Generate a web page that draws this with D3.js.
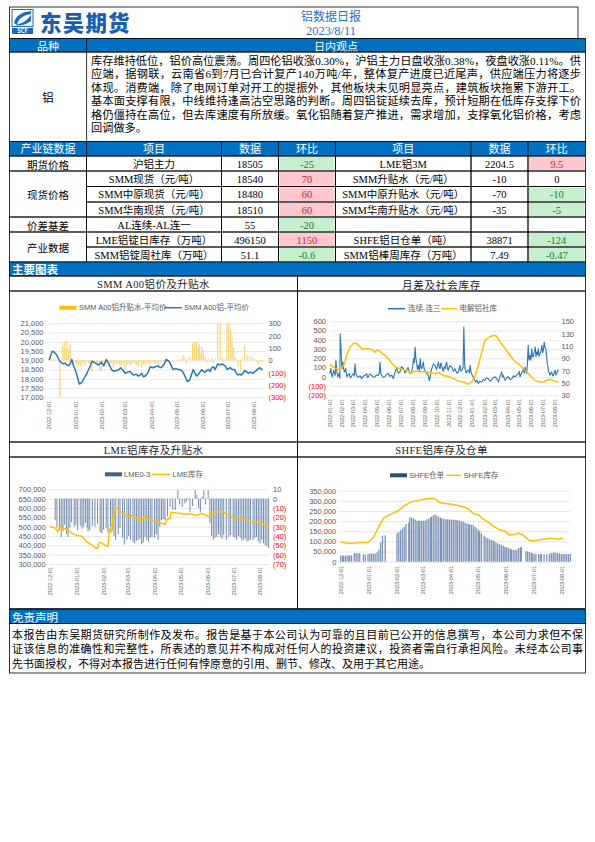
<!DOCTYPE html>
<html><head><meta charset="utf-8">
<script src="https://cdn.jsdelivr.net/npm/d3@7"></script>
<style>
body{margin:0;background:#fff;}
svg text{font-family:"Liberation Serif","Noto Sans CJK SC",serif;}
.sans{font-family:"Noto Sans CJK SC",sans-serif !important;}
.ax{font-family:"Liberation Sans","Noto Sans CJK SC",sans-serif !important;font-size:7.5px;fill:#595959;}
.xl{font-family:"Liberation Sans",sans-serif !important;font-size:5.5px;fill:#595959;}
.lg{font-family:"Liberation Sans","Noto Sans CJK SC",sans-serif !important;font-size:7.5px;fill:#595959;}
</style></head><body>
<svg id="page" width="595" height="842" xmlns="http://www.w3.org/2000/svg"></svg>
<script>
// ---------------- DATA ----------------
const reportTitle = "铝数据日报";
const reportDate = "2023/8/11";
const viewLines = [
 "库存维持低位，铝价高位震荡。周四伦铝收涨0.30%，沪铝主力日盘收涨0.38%，夜盘收涨0.11%。供",
 "应端，据钢联，云南省6到7月已合计复产140万吨/年，整体复产进度已近尾声，供应端压力将逐步",
 "体现。消费端，除了电网订单对开工的提振外，其他板块未见明显亮点，建筑板块拖累下游开工。",
 "基本面支撑有限，中线维持逢高沽空思路的判断。周四铝锭延续去库，预计短期在低库存支撑下价",
 "格仍僵持在高位，但去库速度有所放缓。氧化铝随着复产推进，需求增加，支撑氧化铝价格，考虑",
 "回调做多。"
];
const tableHead = ["产业链数据","项目","数据","环比","项目","数据","环比"];
const groups = [["期货价格",1],["现货价格",3],["价差基差",1],["产业数据",2]];
const itemsL = ["沪铝主力","SMM现货（元/吨）","SMM中原现货（元/吨）","SMM华南现货（元/吨）","AL连续-AL连一","LME铝锭日库存（万吨）","SMM铝锭周社库（万吨）"];
const valsL  = ["18505","18540","18480","18510","55","496150","51.1"];
const chgL   = ["-25","70","60","60","-20","1150","-0.6"];
const itemsR = ["LME铝3M","SMM升贴水（元/吨）","SMM中原升贴水（元/吨）","SMM华南升贴水（元/吨）","","SHFE铝日仓单（吨）","SMM铝棒周库存（万吨）"];
const valsR  = ["2204.5","-10","-70","-35","","38871","7.49"];
const chgR   = ["9.5","0","-10","-5","","-124","-0.47"];
const disclaimer = [
 "本报告由东吴期货研究所制作及发布。报告是基于本公司认为可靠的且目前已公开的信息撰写，本公司力求但不保",
 "证该信息的准确性和完整性，所表述的意见并不构成对任何人的投资建议，投资者需自行承担风险。未经本公司事",
 "先书面授权，不得对本报告进行任何有悖原意的引用、删节、修改、及用于其它用途。"
];
const chartTitles = ["SMM A00铝价及升贴水","月差及社会库存","LME铝库存及升贴水","SHFE铝库存及仓单"];

// chart 1 : [days since base, value]
const c1Base = "2022-12-01";
const c1Months = ["2022-12-01","2023-01-01","2023-02-01","2023-03-01","2023-04-01","2023-05-01","2023-06-01","2023-07-01","2023-08-01"];
const c1LeftTicks = [17000,17500,18000,18500,19000,19500,20000,20500,21000];
const c1RightTicks = [-300,-200,-100,0,100,200,300];
const a00Price = [[0,19000],[2,19250],[4,19500],[6,19450],[9,19300],[12,19000],[14,18900],[17,18800],[19,18850],[21,18750],[23,18700],[25,18800],[27,19050],[29,18700],[31,18500],[33,18200],[36,17720],[39,17800],[43,18150],[45,18300],[47,18500],[49,18700],[51,18950],[53,18900],[55,18850],[58,18750],[60,18800],[62,18900],[65,18700],[68,19050],[71,18800],[74,18500],[77,18400],[80,18450],[83,18500],[85,18600],[88,18450],[90,18300],[93,18350],[96,18400],[98,18300],[100,18200],[103,18250],[106,18150],[108,18200],[110,18300],[112,18100],[114,18150],[116,18250],[118,18400],[120,18650],[123,18600],[126,18650],[129,18700],[132,18600],[134,18650],[136,18750],[139,19050],[143,18900],[145,18700],[147,18500],[150,18550],[153,18500],[155,18500],[157,18450],[159,18350],[161,18150],[164,17850],[167,17950],[169,18250],[171,18500],[173,18300],[175,18150],[177,18250],[178,18300],[181,18500],[183,18400],[185,18350],[187,18450],[189,18500],[191,18400],[193,18600],[195,18650],[197,18500],[200,18800],[202,18750],[205,18800],[207,18750],[209,18700],[211,18500],[213,18550],[215,18600],[217,18500],[220,18500],[222,18300],[224,18200],[226,18250],[228,18200],[230,18300],[232,18450],[234,18400],[236,18300],[238,18350],[240,18350],[242,18300],[244,18400],[246,18450],[248,18550],[250,18600],[252,18500],[253,18540]];
const a00Premium = [[2,30],[5,20],[8,10],[13,-300],[16,120],[18,150],[19,100],[21,160],[23,90],[25,130],[29,-30],[31,-20],[33,-60],[35,-40],[37,-50],[39,-40],[41,-20],[43,-40],[45,-10],[47,-30],[49,-20],[51,-95],[53,-30],[56,-20],[58,-40],[60,-90],[62,-90],[64,-40],[66,-30],[68,-20],[70,-10],[72,-40],[74,-20],[76,-60],[78,-30],[80,-30],[82,-20],[84,-40],[86,-50],[88,-30],[90,-70],[92,-40],[94,-20],[96,-40],[98,-30],[100,-20],[102,-30],[104,-40],[106,-50],[108,-20],[110,-60],[112,-30],[114,-40],[116,-20],[118,-30],[120,-30],[122,-10],[124,-20],[126,-30],[128,-20],[130,-40],[132,-10],[134,-20],[136,-10],[139,-10],[142,-5],[148,-5],[151,5],[153,-10],[156,10],[159,40],[161,20],[163,-30],[165,10],[167,30],[170,140],[172,120],[173,150],[175,150],[177,100],[178,130],[180,60],[181,110],[183,80],[185,30],[187,-20],[189,10],[191,-10],[193,20],[195,-20],[197,10],[200,300],[203,300],[205,20],[207,-10],[209,10],[211,300],[213,300],[215,250],[217,180],[219,100],[221,20],[224,-50],[227,-80],[229,20],[232,120],[235,40],[238,30],[241,20],[244,10],[246,-10],[248,-30],[251,-20],[253,-10]];

// chart 2
const c2Base = "2022-01-01";
const c2Months = ["2022-01-01","2022-02-01","2022-03-01","2022-04-01","2022-05-01","2022-06-01","2022-07-01","2022-08-01","2022-09-01","2022-10-01","2022-11-01","2022-12-01","2023-01-01","2023-02-01","2023-03-01","2023-04-01","2023-05-01","2023-06-01","2023-07-01","2023-08-01"];
const c2LeftTicks = [-200,-100,0,100,200,300,400,500,600];
const c2RightTicks = [30,50,70,90,110,130,150];
const spread = [[0,35],[3,88],[5,20],[7,0],[10,70],[12,40],[14,16],[16,178],[18,60],[21,0],[24,35],[26,-15],[27,466],[29,300],[31,124],[33,90],[34,160],[36,80],[38,52],[41,88],[43,30],[44,0],[47,20],[50,35],[53,-10],[55,0],[58,20],[61,35],[63,10],[65,140],[67,40],[69,16],[72,-5],[74,0],[78,10],[82,-20],[86,5],[91,16],[95,35],[97,-10],[99,0],[103,30],[108,16],[112,-5],[116,0],[120,20],[125,16],[127,40],[129,160],[131,30],[133,16],[137,-5],[142,0],[146,30],[150,35],[154,5],[159,16],[163,-20],[166,30],[169,70],[172,88],[176,40],[180,52],[184,110],[189,88],[193,40],[197,70],[201,100],[206,35],[210,45],[213,120],[215,196],[217,150],[219,322],[221,200],[223,160],[225,80],[227,124],[230,60],[232,196],[234,100],[236,88],[238,120],[240,160],[242,90],[244,70],[248,40],[253,16],[255,-40],[257,-20],[260,60],[262,88],[266,140],[270,124],[274,80],[279,160],[281,100],[283,88],[285,150],[287,124],[291,60],[294,110],[296,88],[298,130],[300,160],[302,90],[304,70],[308,120],[313,106],[317,60],[321,88],[326,40],[330,52],[332,90],[334,124],[336,60],[339,70],[342,100],[344,539],[346,150],[347,88],[350,40],[353,70],[356,70],[358,40],[360,124],[362,60],[364,35],[366,10],[368,0],[371,-30],[374,-56],[378,-40],[381,-74],[385,-50],[390,-56],[394,-30],[398,-38],[402,-10],[407,-20],[411,-45],[415,-38],[419,-10],[424,0],[428,-20],[431,-40],[433,-56],[437,10],[441,52],[443,-5],[445,16],[448,-20],[450,-38],[454,-10],[458,0],[462,-30],[467,-20],[471,10],[475,0],[480,20],[484,35],[486,60],[488,0],[492,40],[495,60],[497,88],[499,40],[501,106],[503,60],[505,35],[507,150],[509,340],[511,180],[514,232],[516,180],[518,304],[520,220],[522,214],[524,260],[527,322],[529,220],[531,268],[533,240],[535,304],[537,220],[539,250],[542,280],[544,340],[546,260],[548,286],[550,376],[552,320],[554,304],[556,232],[558,150],[561,70],[563,40],[565,16],[567,40],[569,52],[572,10],[574,16],[576,50],[578,70],[580,20],[582,35],[584,60],[586,82]];
const socialStock = [[0,80],[14,74],[22,72],[31,74],[38,81],[44,96],[52,108],[61,114],[67,115],[74,111],[82,106],[91,105],[99,106],[108,104],[116,100],[123,104],[133,99],[146,92],[157,84],[168,76],[180,73],[193,70.5],[206,67],[219,69],[232,68],[244,68],[257,67],[270,65],[279,67],[291,62],[304,61],[317,57],[330,53],[343,51.6],[356,48],[364,51.6],[373,62],[381,78.6],[390,100],[398,119],[409,124.6],[420,127],[428,126],[437,116.5],[450,105.7],[462,95],[475,85],[488,78.6],[501,70.5],[514,62],[527,54],[539,51.6],[548,51.6],[556,54],[565,56],[578,53],[587,51.1]];

// chart 3
const c3Base = "2022-12-01";
const c3LeftTicks = [300000,350000,400000,450000,500000,550000,600000,650000,700000];
const c3RightTicks = [-70,-60,-50,-40,-30,-20,-10,0,10];
const lmeStock = [[0,501000],[6,492000],[9,474000],[12,505000],[13,483000],[17,489000],[21,483000],[25,465000],[31,453000],[37,448000],[42,421000],[48,403000],[52,389000],[55,382000],[57,417000],[60,412000],[64,400000],[67,394000],[69,492000],[71,470000],[73,545000],[76,602000],[79,590000],[83,577000],[87,563000],[91,554000],[93,567000],[96,554000],[100,545000],[104,549000],[106,531000],[109,554000],[112,545000],[116,537000],[121,531000],[125,524000],[129,519000],[133,513000],[135,537000],[139,545000],[140,577000],[145,574000],[150,572000],[156,567000],[162,569000],[166,563000],[172,563000],[175,572000],[177,567000],[181,560000],[184,554000],[187,581000],[191,577000],[195,584000],[199,581000],[203,572000],[206,563000],[210,554000],[214,545000],[218,549000],[222,542000],[226,537000],[231,531000],[237,524000],[243,519000],[249,510000],[253,496150]];
const lme03 = [[6,-23],[8,-31],[11,-33],[13,-41],[15,-35],[17,-28],[19,-38],[21,-41],[23,-31],[25,-25],[28,-30],[30,-28],[32,-34],[35,-29],[37,-32],[39,-30],[41,-26],[43,-31],[44,-35],[46,-34],[49,-29],[52,-30],[55,-27],[58,-36],[60,-37],[62,-33],[65,-31],[67,-36],[70,-30],[72,-34],[74,-40],[76,-44],[79,-38],[81,-31],[84,-42],[86,-49],[89,-44],[91,-40],[93,-44],[96,-46],[98,-48],[100,-45],[102,-44],[104,-43],[106,-49],[108,-47],[110,-41],[112,-44],[114,-46],[116,-42],[118,-41],[121,-42],[123,-38],[125,-44],[127,-30],[129,-23],[131,-22],[133,-23],[136,-19],[139,-9],[142,-12],[145,-12],[148,9],[150,-6],[153,-9],[156,-5],[158,-3],[160,-1],[162,-14],[165,-8],[168,9],[170,4],[172,-10],[174,-14],[176,2],[178,9],[180,-6],[183,9],[185,-26],[187,-40],[189,-44],[191,-42],[193,-41],[195,-38],[197,-41],[199,-43],[201,-39],[204,-44],[207,-41],[209,-39],[212,-41],[214,-42],[216,-44],[218,-40],[220,-42],[222,-45],[224,-44],[226,-43],[228,-46],[230,-45],[232,-44],[235,-44],[237,-42],[239,-41],[241,-46],[243,-48],[245,-44],[247,-48],[249,-50],[251,-51],[253,-53]];

// chart 4
const c4Base = "2022-12-01";
const c4LeftTicks = [0,50000,100000,150000,200000,250000,300000,350000];
const shfeStock = [[0,98600],[8,90000],[16,92000],[23,95000],[30,95000],[36,118000],[41,164000],[47,214000],[51,225000],[57,238000],[63,250000],[71,279000],[78,296000],[85,301000],[93,309000],[98,312000],[104,309000],[109,292000],[115,287000],[122,283000],[130,276000],[135,271000],[141,260000],[146,238000],[152,230000],[157,210000],[163,194000],[168,177000],[174,159000],[181,151000],[186,131000],[191,135000],[196,140000],[201,131000],[207,107000],[212,102000],[218,107000],[225,112000],[232,115000],[240,112000],[245,115000]];
const shfeWarrant = [[0,30000],[2,30000],[3,30000],[5,30000],[7,30000],[9,31000],[10,31000],[12,32000],[15,42000],[17,42000],[19,42000],[21,42000],[25,38000],[27,35000],[30,38000],[32,40000],[34,40000],[36,40000],[38,40000],[40,45000],[42,60000],[44,95000],[46,128000],[49,130000],[62,140000],[64,147000],[66,155000],[68,163000],[70,172000],[72,185000],[75,192000],[76,218000],[78,218000],[80,215000],[82,208000],[84,202000],[86,202000],[87,202000],[89,202000],[91,202000],[93,202000],[95,208000],[97,213000],[99,218000],[100,222000],[102,228000],[104,233000],[106,228000],[108,222000],[110,218000],[111,213000],[113,212000],[115,210000],[117,209000],[118,208000],[120,208000],[122,207000],[124,207000],[126,206000],[128,205000],[129,204000],[131,202000],[133,200000],[135,197000],[137,193000],[139,189000],[141,186000],[142,184000],[144,182000],[146,180000],[148,172000],[150,164000],[152,155000],[153,148000],[155,140000],[158,128000],[160,120000],[162,115000],[164,110000],[166,107000],[168,104000],[169,100000],[171,95000],[173,90000],[175,86000],[177,82000],[179,78000],[180,75000],[182,72000],[183,70000],[185,68000],[187,64000],[188,60000],[190,58000],[192,57000],[194,60000],[196,68000],[198,70000],[199,72000],[204,52000],[206,50000],[208,47000],[210,44000],[211,42000],[213,40000],[215,38000],[218,37000],[220,37000],[221,37000],[224,37000],[227,37000],[230,40000],[232,42000],[234,44000],[235,45000],[237,44000],[239,42000],[241,40000],[243,38000],[245,38000],[247,38000],[249,38000],[251,38000],[253,38871]];

// ---------------- DRAW ----------------
const svg = d3.select("#page");
const BLUE = "#0070c0";
const L = 9.5, R = 585.5, MID = 297.5;
const parse = d3.timeParse("%Y-%m-%d");
const fmtD = d3.timeFormat("%Y-%m-%d");
const dayOf = (base, d) => d3.timeDay.offset(parse(base), d);
const comma = d3.format(",");
const paren = v => v < 0 ? "(" + Math.abs(v) + ")" : String(v);

function box(x, y, w, h, fill) {
  return svg.append("rect").attr("x", x).attr("y", y).attr("width", w).attr("height", h)
    .attr("fill", fill || "none").attr("stroke", "#000").attr("stroke-width", 0.8);
}
function vline(x, y1, y2) { svg.append("line").attr("x1", x).attr("x2", x).attr("y1", y1).attr("y2", y2).attr("stroke", "#000").attr("stroke-width", 0.8); }
function txt(x, y, s, size, opt) {
  opt = opt || {};
  const t = svg.append("text").attr("x", x).attr("y", y).text(s)
    .attr("font-size", size).attr("dominant-baseline", "central")
    .attr("text-anchor", opt.anchor || "middle").attr("fill", opt.fill || "#000");
  if (opt.cls) t.attr("class", opt.cls);
  if (opt.weight) t.attr("font-weight", opt.weight);
  if (opt.len) t.attr("textLength", opt.len).attr("lengthAdjust", "spacing");
  if (opt.ls) t.attr("letter-spacing", opt.ls);
  return t;
}

// header
box(L, 7, 578 - L, 31.5);
const logo = svg.append("g");
logo.append("rect").attr("x", 12).attr("y", 9.5).attr("width", 21).attr("height", 17).attr("fill", "#fff").attr("stroke", "#1a6bc0").attr("stroke-width", 1);
logo.append("path").attr("d", "M14,23 C16,14 24,12 31,11 L31,14 C25,15 19,17 17,25 Z").attr("fill", "#1a6bc0");
logo.append("path").attr("d", "M15,25 C21,24 27,21 31,15 L31,21 C27,24 22,25.5 18,25.5 Z").attr("fill", "#1a6bc0");
logo.append("rect").attr("x", 12).attr("y", 28).attr("width", 21).attr("height", 6).attr("fill", "#1a6bc0");
logo.append("text").attr("x", 22.5).attr("y", 31.2).attr("text-anchor", "middle").attr("dominant-baseline", "central")
  .attr("font-size", 5.5).attr("font-weight", "bold").attr("fill", "#fff").attr("class", "sans").text("SCF");
txt(40, 21, "东吴期货", 21.5, { anchor: "start", fill: "#1a5fae", weight: 900, cls: "sans", ls: 1.2 });
txt(331, 15, reportTitle, 12, { fill: "#2f6fc0", cls: "sans" });
txt(331, 30.5, reportDate, 12.5, { fill: "#2f6fc0" });

// view header
box(L, 38.5, R - L, 13.5, BLUE);
vline(86.6, 38.5, 52);
txt(48, 45.6, "品种", 11, { fill: "#fff", cls: "sans" });
txt(336, 45.6, "日内观点", 11, { fill: "#fff", cls: "sans" });
box(L, 52, R - L, 89.5);
vline(86.6, 52, 141.5);
txt(48, 97, "铝", 11.5, { cls: "sans" });
viewLines.forEach((s, i) => {
  txt(91, 60.5 + i * 13.5, s, 11.2, { anchor: "start", len: i < viewLines.length - 1 ? 490 : null });
});

// data table
const colX = [9.5, 86.6, 221.5, 278.4, 335.4, 471, 528, 585.5];
const rowY = [141.5, 156, 171, 186.5, 202, 217, 232, 247, 262];
box(L, rowY[0], R - L, rowY[1] - rowY[0], BLUE);
tableHead.forEach((h, i) => {
  if (i > 0) vline(colX[i], rowY[0], rowY[1]);
  txt((colX[i] + colX[i + 1]) / 2, (rowY[0] + rowY[1]) / 2 - 0.4, h, 11, { fill: "#fff", cls: "sans" });
});
let r0 = 0;
groups.forEach(([name, span]) => {
  const y0 = rowY[r0 + 1], y1 = rowY[r0 + span + 1];
  box(colX[0], y0, colX[1] - colX[0], y1 - y0);
  txt((colX[0] + colX[1]) / 2, (y0 + y1) / 2 + 0.5, name, 10.5, { cls: "sans" });
  r0 += span;
});
function changeCell(c, i, val) {
  const y0 = rowY[i + 1], y1 = rowY[i + 2];
  const v = parseFloat(val);
  if (val !== "" && v !== 0) {
    svg.append("rect").attr("x", colX[c] + 1).attr("y", y0 + 1).attr("width", colX[c + 1] - colX[c] - 2).attr("height", y1 - y0 - 2)
      .attr("fill", v > 0 ? "#ffc7ce" : "#c6efce");
  }
  txt((colX[c] + colX[c + 1]) / 2, (y0 + y1) / 2 + 0.5, val, 10.5, { fill: v > 0 ? "#c0272f" : (v < 0 ? "#1f7a34" : "#000") });
}
itemsL.forEach((it, i) => {
  const y0 = rowY[i + 1], y1 = rowY[i + 2], cy = (y0 + y1) / 2 + 0.5;
  for (let c = 1; c < 7; c++) box(colX[c], y0, colX[c + 1] - colX[c], y1 - y0);
  txt((colX[1] + colX[2]) / 2, cy, it, 10.5);
  txt((colX[2] + colX[3]) / 2, cy, valsL[i], 10.5);
  changeCell(3, i, chgL[i]);
  txt((colX[4] + colX[5]) / 2, cy, itemsR[i], 10.5);
  txt((colX[5] + colX[6]) / 2, cy, valsR[i], 10.5);
  changeCell(6, i, chgR[i]);
});

// charts section
box(L, 262, R - L, 14, BLUE);
txt(12, 269, "主要图表", 11.5, { anchor: "start", fill: "#fff", cls: "sans", weight: "bold" });
box(L, 276, MID - L, 15); box(MID, 276, R - MID, 15);
box(L, 291, MID - L, 151); box(MID, 291, R - MID, 151);
box(L, 442, MID - L, 15); box(MID, 442, R - MID, 15);
box(L, 457, MID - L, 151.5); box(MID, 457, R - MID, 151.5);
txt((L + MID) / 2, 284, chartTitles[0], 10.5, { ls: 0.4, fill: "#222" });
txt((MID + R) / 2, 284, chartTitles[1], 10.5, { ls: 0.8, fill: "#222", cls: "sans" });
txt((L + MID) / 2, 450, chartTitles[2], 10.5, { ls: 0.4, fill: "#222" });
txt((MID + R) / 2, 450, chartTitles[3], 10.5, { ls: 0.4, fill: "#222" });

function cleanAxis(a) {
  a.attr("font-size", null).attr("font-family", null);
  a.select(".domain").remove();
}
function panel(p) {
  const g = svg.append("g");
  g.append("g").attr("transform", `translate(${p.gx0},0)`)
    .call(d3.axisLeft(p.yL).tickValues(p.leftTicks).tickSize(-(p.gx1 - p.gx0)).tickFormat(""))
    .call(a => { cleanAxis(a); a.selectAll("line").attr("stroke", "#d9d9d9").attr("stroke-width", 0.6); });
  if (p.bars) {
    const yb = p.barAxis === "left" ? p.yL : p.yR;
    g.append("g").selectAll("rect").data(p.bars).join("rect")
      .attr("x", d => p.x(dayOf(p.base, d[0])) - p.bw / 2).attr("width", p.bw)
      .attr("y", d => Math.min(yb(0), yb(d[1]))).attr("height", d => Math.abs(yb(d[1]) - yb(0)))
      .attr("fill", p.barColor);
  }
  p.lines.forEach(l => {
    g.append("path").datum(l.data.slice().sort((a, b) => a[0] - b[0]))
      .attr("d", d3.line().x(d => p.x(dayOf(p.base, d[0]))).y(d => l.y(d[1])))
      .attr("fill", "none").attr("stroke", l.color).attr("stroke-width", l.w).attr("stroke-linejoin", "round");
  });
  g.append("g").attr("transform", `translate(${p.lx},0)`)
    .call(d3.axisLeft(p.yL).tickValues(p.leftTicks).tickSize(0).tickPadding(0).tickFormat(p.leftFmt))
    .call(a => { cleanAxis(a); a.selectAll("text").attr("class", "ax").style("fill", d => d < 0 ? "#ff0000" : null); });
  if (p.yR) {
    g.append("g").attr("transform", `translate(${p.rx},0)`)
      .call(d3.axisRight(p.yR).tickValues(p.rightTicks).tickSize(0).tickPadding(0).tickFormat(p.rightFmt))
      .call(a => { cleanAxis(a); a.selectAll("text").attr("class", "ax").style("fill", d => d < 0 ? "#ff0000" : null); });
  }
  g.append("g").attr("transform", `translate(0,${p.xTop})`)
    .call(d3.axisBottom(p.x).tickValues(p.months.map(parse)).tickSize(0).tickFormat(fmtD))
    .call(a => {
      cleanAxis(a);
      a.selectAll("text").attr("class", "xl").attr("transform", "rotate(-90)")
        .attr("x", 0).attr("y", 0).attr("dy", "0.35em").attr("text-anchor", "end");
    });
  p.legend.forEach(it => {
    if (it.type === "rect") g.append("rect").attr("x", it.x0).attr("y", p.ly - 2).attr("width", it.x1 - it.x0).attr("height", 4).attr("fill", it.color);
    else g.append("line").attr("x1", it.x0).attr("x2", it.x1).attr("y1", p.ly).attr("y2", p.ly).attr("stroke", it.color).attr("stroke-width", 1.5);
    g.append("text").attr("x", it.tx).attr("y", p.ly).attr("dominant-baseline", "central").attr("class", "lg").text(it.text);
  });
}

// chart 1
{
  const x = d3.scaleTime().domain([parse(c1Months[0]), parse(c1Months[8])]).range([49, 254]);
  const yL = d3.scaleLinear().domain([17000, 21000]).range([397.3, 323.3]);
  const yR = d3.scaleLinear().domain([-300, 300]).range([397.3, 323.3]);
  panel({ x, yL, yR, base: c1Base, months: c1Months, leftTicks: c1LeftTicks, rightTicks: c1RightTicks,
    leftFmt: comma, rightFmt: paren, gx0: 49, gx1: 265, lx: 43.5, rx: 268.5, xTop: 401,
    bars: a00Premium, barAxis: "right", bw: 1.2, barColor: "#f7d676",
    lines: [{ data: a00Price, y: yL, color: "#2e75b6", w: 1.5 }],
    ly: 307.7,
    legend: [{ type: "rect", x0: 59.3, x1: 76.5, color: "#ffc000", tx: 79, text: "SMM A00铝升贴水-平均价" },
             { type: "line", x0: 164.3, x1: 181.7, color: "#2e75b6", tx: 184, text: "SMM A00铝-平均价" }] });
}
// chart 2
{
  const x = d3.scaleTime().domain([parse(c2Months[0]), parse(c2Months[19])]).range([329.7, 554.7]);
  const yL = d3.scaleLinear().domain([-200, 600]).range([395.3, 321.3]);
  const yR = d3.scaleLinear().domain([30, 150]).range([395.3, 321.3]);
  panel({ x, yL, yR, base: c2Base, months: c2Months, leftTicks: c2LeftTicks, rightTicks: c2RightTicks,
    leftFmt: paren, rightFmt: d => String(d), gx0: 330, gx1: 559, lx: 326, rx: 561.5, xTop: 399,
    lines: [{ data: spread, y: yL, color: "#2e75b6", w: 1.1 }, { data: socialStock, y: yR, color: "#ffc000", w: 1.5 }],
    ly: 308.7,
    legend: [{ type: "line", x0: 388, x1: 405, color: "#2e75b6", tx: 408, text: "连续-连三" },
             { type: "line", x0: 441, x1: 457, color: "#ffc000", tx: 459.5, text: "电解铝社库" }] });
}
// chart 3
{
  const x = d3.scaleTime().domain([parse(c1Months[0]), parse(c1Months[8])]).range([50, 260]);
  const yL = d3.scaleLinear().domain([300000, 700000]).range([564, 489.3]);
  const yR = d3.scaleLinear().domain([-70, 10]).range([564, 489.3]);
  panel({ x, yL, yR, base: c3Base, months: c1Months, leftTicks: c3LeftTicks, rightTicks: c3RightTicks,
    leftFmt: comma, rightFmt: paren, gx0: 49, gx1: 269, lx: 45.7, rx: 273, xTop: 567,
    bars: lme03, barAxis: "right", bw: 1.0, barColor: "#7089ad",
    lines: [{ data: lmeStock, y: yL, color: "#ffc000", w: 1.5 }],
    ly: 474.3,
    legend: [{ type: "rect", x0: 105, x1: 122, color: "#44608a", tx: 124, text: "LME0-3" },
             { type: "line", x0: 152, x1: 170, color: "#ffc000", tx: 172.5, text: "LME库存" }] });
}
// chart 4
{
  const x = d3.scaleTime().domain([parse(c1Months[0]), parse(c1Months[8])]).range([340.7, 561.3]);
  const yL = d3.scaleLinear().domain([0, 350000]).range([561.7, 490.7]);
  panel({ x, yL, yR: null, base: c4Base, months: c1Months, leftTicks: c4LeftTicks,
    leftFmt: comma, gx0: 339.7, gx1: 569.7, lx: 336.3, xTop: 566,
    bars: shfeWarrant, barAxis: "left", bw: 1.3, barColor: "#7d93b5",
    lines: [{ data: shfeStock, y: yL, color: "#ffc000", w: 1.5 }],
    ly: 475.3,
    legend: [{ type: "rect", x0: 390, x1: 407, color: "#2e4a7a", tx: 409, text: "SHFE仓单" },
             { type: "line", x0: 446, x1: 461, color: "#ffc000", tx: 463.5, text: "SHFE库存" }] });
}

// disclaimer
box(L, 609.5, R - L, 14, BLUE);
txt(12, 616.5, "免责声明", 11.5, { anchor: "start", fill: "#fff", cls: "sans" });
box(L, 623.5, R - L, 49.5);
disclaimer.forEach((s, i) => {
  txt(12, 635 + i * 14.3, s, 11, { anchor: "start", len: i < 2 ? 571 : null });
});
</script>
</body></html>
